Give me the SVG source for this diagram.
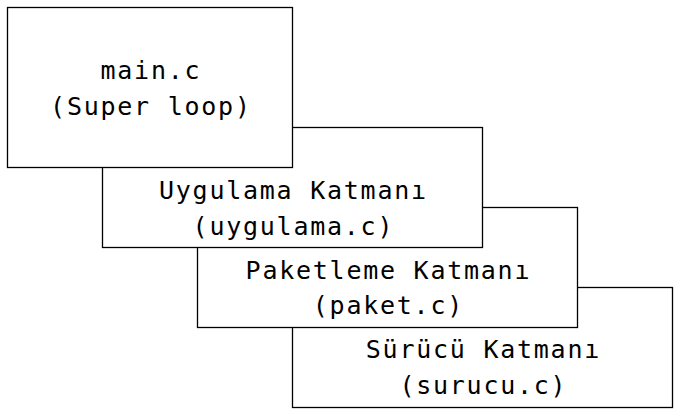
<svg xmlns="http://www.w3.org/2000/svg" width="682" height="419" viewBox="0 0 682 419">
<style>
.box{fill:#fff;stroke:#000;stroke-width:1.3}
.t{font-family:"DejaVu Sans Mono",monospace;font-size:25px;letter-spacing:1.75px;text-anchor:middle;fill:#000}
</style>
<rect width="682" height="419" fill="#fff"/>
<g id="surucu">
<rect class="box" x="292.5" y="287.5" width="380" height="120"/>
<text class="t" x="483.4" y="357.5">Sürücü Katmanı</text>
<text class="t" x="483.4" y="393.5">(surucu.c)</text>
</g>
<g id="paket">
<rect class="box" x="197.5" y="207.5" width="380" height="120"/>
<text class="t" x="388.4" y="278.5">Paketleme Katmanı</text>
<text class="t" x="388.4" y="313.5">(paket.c)</text>
</g>
<g id="uygulama">
<rect class="box" x="102.5" y="127.5" width="380" height="120"/>
<text class="t" x="293.4" y="199">Uygulama Katmanı</text>
<text class="t" x="293.4" y="235">(uygulama.c)</text>
</g>
<g id="main">
<rect class="box" x="7.5" y="7.5" width="285" height="160"/>
<text class="t" x="150.9" y="79">main.c</text>
<text class="t" x="150.9" y="115">(Super loop)</text>
</g>
<g id="connectors"></g>
</svg>
